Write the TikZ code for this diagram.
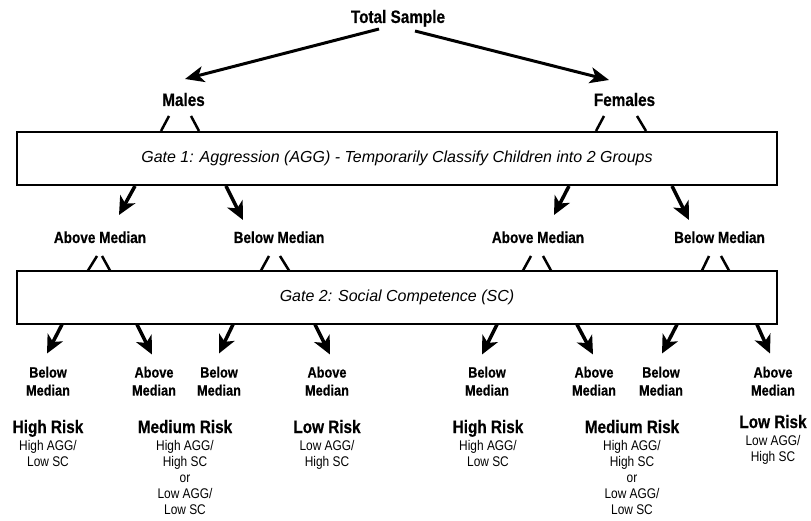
\documentclass[tikz,border=0pt]{standalone}
\usepackage{fontspec}
\setmainfont{Liberation Sans}
\newfontfamily\cn[FakeStretch=0.85]{Liberation Sans}
\newfontfamily\cnb[FakeStretch=0.85,FakeBold=0.5]{Liberation Sans Bold}
\usetikzlibrary{arrows.meta,calc}
\tikzset{
  lbl/.style={font=\cnb\fontsize{16}{16}\selectfont, inner sep=0pt, anchor=base},
  toplbl/.style={lbl, font=\cnb\fontsize{18}{18}\selectfont},
  collbl/.style={font=\cnb\fontsize{15}{18}\selectfont, inner sep=0pt, anchor=north, align=center},
  risk/.style={lbl, font=\cnb\fontsize{18}{18}\selectfont},
  risksub/.style={font=\cn\fontsize{14}{16}\selectfont, inner sep=0pt, anchor=north, align=center},
  gatebox/.style={draw, line width=2pt, minimum width=760pt, inner sep=0pt,
     font=\itshape\fontsize{16}{16}\selectfont},
  toparrow/.style={line width=3pt, -{Stealth[length=19pt,width=16pt,inset=5pt]}},
  arr/.style={line width=3.5pt, -{Stealth[length=18pt,width=17pt,inset=5pt]}},
  stub/.style={line width=2.5pt}
}
\begin{document}
\begin{tikzpicture}[x=1pt,y=-1pt]
\useasboundingbox (0,0) rectangle (811,521);
% top level
\node[toplbl] (total) at (398,23) {Total Sample};
\node[toplbl] (males) at (183.5,106) {Males};
\node[toplbl] (females) at (624.5,106) {Females};
\draw[toparrow] ($(total.base)+(-19,6)$) -- ($(males.base)+(1.5,-27)$);
\draw[toparrow] ($(total.base)+(17,8)$) -- ($(females.base)+(-15.5,-26)$);
% gate 1
\node[gatebox, minimum height=53pt] (g1) at (397,158.5) {Gate 1: Aggression (AGG) - Temporarily Classify Children into 2 Groups};
\draw[stub] ($(males.base)+(-14.5,10)$) -- ($(g1.north)+(-236,0)$);
\draw[stub] ($(males.base)+(7.5,10)$) -- ($(g1.north)+(-198,0)$);
\draw[stub] ($(females.base)+(-20.5,10)$) -- ($(g1.north)+(199,0)$);
\draw[stub] ($(females.base)+(12.5,10)$) -- ($(g1.north)+(249,0)$);
% middle labels
\node[lbl] (ma) at (100,243) {Above Median};
\node[lbl] (mb) at (279,243) {Below Median};
\node[lbl] (fa) at (538,243) {Above Median};
\node[lbl] (fb) at (719.5,243) {Below Median};
\draw[arr] ($(g1.south)+(-262,0)$) -- ($(ma.base)+(19,-28)$);
\draw[arr] ($(g1.south)+(-171,0)$) -- ($(mb.base)+(-36,-23)$);
\draw[arr] ($(g1.south)+(172,0)$) -- ($(fa.base)+(16,-28)$);
\draw[arr] ($(g1.south)+(275,0)$) -- ($(fb.base)+(-30.5,-23)$);
% gate 2
\node[gatebox, minimum height=52pt] (g2) at (397,297.5) {Gate 2: Social Competence (SC)};
\draw[stub] ($(ma.base)+(-3,13)$) -- ($(g2.north)+(-309,0)$);
\draw[stub] ($(ma.base)+(2,13)$) -- ($(g2.north)+(-287,0)$);
\draw[stub] ($(mb.base)+(-10,13)$) -- ($(g2.north)+(-136,0)$);
\draw[stub] ($(mb.base)+(1,13)$) -- ($(g2.north)+(-108,0)$);
\draw[stub] ($(fa.base)+(-7,13)$) -- ($(g2.north)+(126,0)$);
\draw[stub] ($(fa.base)+(5,13)$) -- ($(g2.north)+(154,0)$);
\draw[stub] ($(fb.base)+(-10.5,13)$) -- ($(g2.north)+(305,0)$);
\draw[stub] ($(fb.base)+(1.5,13)$) -- ($(g2.north)+(332,0)$);
% bottom labels
\node[collbl] (c1) at (48,366.5) {Below\\Median};
\node[collbl] (c2) at (154,366.5) {Above\\Median};
\node[collbl] (c3) at (219,366.5) {Below\\Median};
\node[collbl] (c4) at (327,366.5) {Above\\Median};
\node[collbl] (c5) at (487,366.5) {Below\\Median};
\node[collbl] (c6) at (594,366.5) {Above\\Median};
\node[collbl] (c7) at (661,366.5) {Below\\Median};
\node[collbl] (c8) at (773,366.5) {Above\\Median};
\draw[arr] ($(g2.south)+(-335,0)$) -- ($(c1.north)+(-1,-13)$);
\draw[arr] ($(g2.south)+(-260,0)$) -- ($(c2.north)+(-2,-12)$);
\draw[arr] ($(g2.south)+(-164,0)$) -- ($(c3.north)+(0,-13)$);
\draw[arr] ($(g2.south)+(-82,0)$) -- ($(c4.north)+(3,-12)$);
\draw[arr] ($(g2.south)+(100,0)$) -- ($(c5.north)+(-5,-12)$);
\draw[arr] ($(g2.south)+(180,0)$) -- ($(c6.north)+(-1,-12)$);
\draw[arr] ($(g2.south)+(280,0)$) -- ($(c7.north)+(1,-13)$);
\draw[arr] ($(g2.south)+(360,0)$) -- ($(c8.north)+(-3,-13)$);
% risk groups
\node[risk] (r1) at (48,433) {High Risk};
\node[risk] (r2) at (185,433) {Medium Risk};
\node[risk] (r3) at (327,433) {Low Risk};
\node[risk] (r4) at (488,433) {High Risk};
\node[risk] (r5) at (632,433) {Medium Risk};
\node[risk] (r6) at (773,428) {Low Risk};
\node[risksub] (s1) at ($(r1.base)+(0,7)$) {High AGG/\\Low SC};
\node[risksub] (s2) at ($(r2.base)+(0,7)$) {High AGG/\\High SC\\or\\Low AGG/\\Low SC};
\node[risksub] (s3) at ($(r3.base)+(0,7)$) {Low AGG/\\High SC};
\node[risksub] (s4) at ($(r4.base)+(0,7)$) {High AGG/\\Low SC};
\node[risksub] (s5) at ($(r5.base)+(0,7)$) {High AGG/\\High SC\\or\\Low AGG/\\Low SC};
\node[risksub] (s6) at ($(r6.base)+(0,7)$) {Low AGG/\\High SC};
\end{tikzpicture}
\end{document}
